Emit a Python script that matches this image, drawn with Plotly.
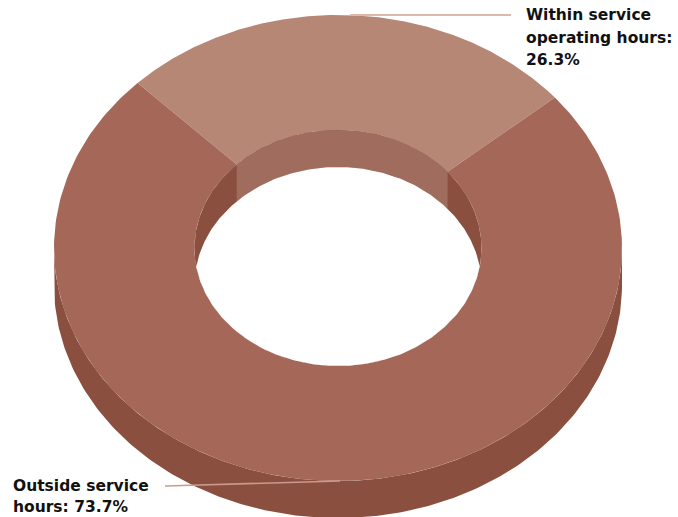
import numpy as np
import plotly.graph_objects as go

categories = ["Within service operating hours", "Outside service hours"]
values = [26.3, 73.7]
label_lines = [["Within service", "operating hours:", "26.3%"], ["Outside service", "hours: 73.7%"]]

W, H = 678, 517
CX, CY, RX, RY = 338, 248, 284, 233
IRX, IRY = 143.5, 118
DEPTH = 37
START = -44.9  # degrees clockwise from top
TOP = ["#B78775", "#A56858"]
WALL = ["#9F6C5D", "#8A4F3E"]
LEAD = ["#DDB8AD", "#C99A8D"]
LABEL_X = [524, 11]
LABEL_Y = [15, 485.5]
LINE_STEP = [22.7, 21.5]


def pt(deg, rx, ry, dy=0):
    r = np.radians(deg)
    return CX + rx * np.sin(r), CY - ry * np.cos(r) + dy


def poly(xs, ys, color):
    return go.Scatter(x=xs, y=ys, mode="lines", fill="toself", fillcolor=color,
                      line=dict(width=0, color=color), hoverinfo="skip", showlegend=False)


fig = go.Figure()

# extruded outer side
a = np.linspace(90, 270, 200)
x1, y1 = pt(a, RX, RY)
x2, y2 = pt(a[::-1], RX, RY, DEPTH)
fig.add_trace(poly(np.r_[x1, x2], np.r_[y1, y2], WALL[1]))

# top face slices
total = sum(values)
edges = START + np.cumsum([0] + values) / total * 360
for i in range(len(values)):
    a = np.linspace(edges[i], edges[i + 1], 240)
    xo, yo = pt(a, RX, RY)
    xi, yi = pt(a[::-1], IRX, IRY)
    fig.add_trace(poly(np.r_[xo, xi], np.r_[yo, yi], TOP[i]))

# hole: dark wall, lighter wall of the back slice, then the opening
a = np.linspace(0, 360, 360)
xh, yh = pt(a, IRX, IRY)
fig.add_trace(poly(xh, yh, WALL[1]))
a = np.linspace(edges[0], edges[1], 160)
xt, yt = pt(a, IRX, IRY)
xb, yb = pt(a[::-1], IRX, IRY, DEPTH)
fig.add_trace(poly(np.r_[xt, xb], np.r_[yt, yb], WALL[0]))
sin_cut = np.sqrt(1 - (DEPTH / (2 * IRY)) ** 2)
cut = np.degrees(np.arcsin(sin_cut))
top_arc = np.linspace(-cut, cut, 200)
bottom_arc = np.linspace(180 - cut, 180 + cut, 200)
xa, ya = pt(top_arc, IRX, IRY, DEPTH)
xc, yc = pt(bottom_arc, IRX, IRY)
fig.add_trace(poly(np.r_[xa, xc], np.r_[ya, yc], "#FFFFFF"))

# leader lines and labels
fig.add_trace(go.Scatter(x=[350, 511], y=[15, 15], mode="lines", line=dict(color=LEAD[0], width=2),
                         hoverinfo="skip", showlegend=False))
fig.add_trace(go.Scatter(x=[165, 340], y=[486, 481], mode="lines", line=dict(color=LEAD[1], width=1.6),
                         hoverinfo="skip", showlegend=False))
for lines, lx, ly, step in zip(label_lines, LABEL_X, LABEL_Y, LINE_STEP):
    for j, line in enumerate(lines):
        fig.add_annotation(x=lx, y=ly + j * step, text=line, showarrow=False, xanchor="left",
                           yanchor="middle", align="left",
                           font=dict(family="DejaVu Sans", size=15.5, color="#111111", weight="bold"))

fig.update_layout(width=W, height=H, margin=dict(l=0, r=0, t=0, b=0), paper_bgcolor="white",
                  plot_bgcolor="white", showlegend=False,
                  xaxis=dict(range=[0, W], visible=False, fixedrange=True),
                  yaxis=dict(range=[H, 0], visible=False, fixedrange=True))
fig.write_html("out.html", config={"displayModeBar": False},
               post_script="document.body.style.margin='0';")
